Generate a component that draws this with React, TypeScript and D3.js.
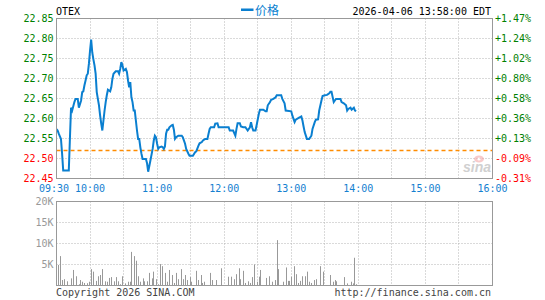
import React from 'react';
import * as d3 from 'd3';

const symbol = 'OTEX';
const stamp = '2026-04-06 13:58:00 EDT';
const legendLabel = '价格';
const prevClose = 22.52;

const priceTicks = [22.85, 22.8, 22.75, 22.7, 22.65, 22.6, 22.55, 22.5, 22.45];
const timeTicks = ['09:30', '10:00', '11:00', '12:00', '13:00', '14:00', '15:00', '16:00'];
const volumeTicks = [5000, 10000, 15000, 20000];

// minutes after 09:30 -> last price
const priceMinutes = [
  0, 1, 2, 4, 5, 6, 11, 12, 13, 14, 16, 17, 19, 20, 22, 23, 24, 25, 26, 27, 28, 29, 30, 31, 32, 33, 34, 35,
  36, 37, 38, 39, 40, 41, 42, 43, 44, 45, 46, 48, 49, 50, 51, 53, 55, 56, 57, 58, 59, 60, 62, 63, 64, 65, 66,
  67, 68, 69, 70, 71, 72, 73, 74, 75, 76, 77, 80, 81, 82, 84, 86, 87, 88, 89, 90, 91, 92, 94, 95, 96, 97, 98,
  99, 100, 101, 103, 104, 105, 106, 107, 109, 112, 113, 115, 116, 118, 119, 122, 124, 125, 127, 128, 130, 131,
  133, 135, 136, 137, 138, 141, 142, 144, 145, 154, 155, 158, 160, 161, 162, 164, 165, 167, 169, 171, 173, 174,
  175, 176, 178, 179, 181, 182, 185, 187, 188, 189, 191, 192, 194, 196, 197, 201, 202, 204, 205, 210, 211, 213,
  214, 217, 219, 220, 221, 222, 224, 226, 228, 229, 231, 232, 234, 235, 237, 238, 240, 242, 244, 245, 246, 248,
  249, 250, 254, 255, 257, 259, 260, 261, 263, 264, 266, 267, 268,
];
const prices = [
  22.573, 22.57, 22.562, 22.549, 22.512, 22.47, 22.47, 22.55, 22.627, 22.62, 22.641, 22.649, 22.649, 22.627,
  22.645, 22.666, 22.668, 22.683, 22.695, 22.708, 22.712, 22.737, 22.77, 22.797, 22.765, 22.748, 22.733, 22.712,
  22.666, 22.649, 22.633, 22.608, 22.587, 22.57, 22.595, 22.62, 22.641, 22.658, 22.672, 22.668, 22.678, 22.699,
  22.712, 22.718, 22.718, 22.712, 22.724, 22.741, 22.733, 22.72, 22.724, 22.716, 22.695, 22.678, 22.691,
  22.653, 22.641, 22.62, 22.62, 22.595, 22.57, 22.549, 22.549, 22.528, 22.512, 22.499, 22.499, 22.488, 22.467,
  22.495, 22.524, 22.545, 22.557, 22.553, 22.537, 22.524, 22.528, 22.53, 22.528, 22.524, 22.53, 22.562,
  22.572, 22.572, 22.578, 22.583, 22.584, 22.572, 22.549, 22.553, 22.557, 22.557, 22.553, 22.537, 22.524,
  22.512, 22.507, 22.507, 22.516, 22.518, 22.532, 22.538, 22.541, 22.545,
  22.549, 22.549, 22.562, 22.574, 22.578, 22.578, 22.587, 22.588, 22.578, 22.578, 22.57, 22.57, 22.557, 22.574,
  22.588, 22.588, 22.58, 22.578, 22.578, 22.57, 22.578, 22.591, 22.578, 22.57, 22.57, 22.583, 22.612, 22.622,
  22.622, 22.618, 22.618, 22.633, 22.641, 22.647, 22.649, 22.653, 22.658, 22.658, 22.649, 22.638, 22.62,
  22.618, 22.607, 22.591, 22.597, 22.602, 22.605, 22.595, 22.58, 22.566, 22.549, 22.549, 22.557, 22.574,
  22.591, 22.597, 22.598, 22.62, 22.645, 22.656, 22.658, 22.659, 22.663, 22.667, 22.667, 22.641, 22.645,
  22.649, 22.649, 22.641, 22.638, 22.633, 22.62, 22.624, 22.627, 22.622, 22.627, 22.62, 22.618,
];

// minutes after 09:30 -> shares traded
const volumeMinutes = [
  1, 3, 5, 7, 9, 13, 15, 17, 20, 21, 23, 25, 27, 29, 31, 33, 35, 37, 39, 41, 43, 45, 47, 49, 51, 53, 55, 57, 59,
  61, 64, 66, 67, 69, 71, 73, 75, 77, 78, 81, 83, 85, 86, 89, 91, 93, 94, 97, 99, 101, 103, 105, 107, 109, 111,
  113, 115, 117, 119, 120, 125, 127, 129, 130, 132, 137, 139, 143, 147, 153, 156, 159, 161, 163, 164, 167, 169,
  171, 173, 175, 177, 179, 181, 182, 187, 190, 193, 195, 197, 198, 203, 205, 207, 208, 210, 212, 214, 216, 218,
  220, 222, 224, 226, 228, 230, 232, 236, 238, 245, 247, 249, 250, 257, 260, 263, 265, 266, 268,
];
const volumes = [
  4900, 7000, 1300, 1500, 1000, 1700, 3700, 2200, 300, 1300, 900, 600, 550, 900, 3900, 3300, 1100, 2200, 2500,
  3900, 1000, 900, 1800, 2000, 1000, 2000, 1000, 300, 2200, 500, 900, 900, 8000, 7000, 5900, 2200, 900, 1700,
  1000, 1000, 3000, 1700, 3300, 1500, 300, 5100, 4600, 3000, 900, 3700, 2500, 600, 3000, 1500, 3900, 1500,
  2500, 1300, 2000, 900, 3500, 1300, 2500, 600, 900, 3000, 1300, 1300, 4100, 2100, 2100, 1500, 2700, 4100,
  1500, 3500, 600, 1000, 600, 2000, 5000, 900, 2100, 3700, 1800, 2200, 900, 1300, 10800, 3900, 900, 4300, 1100,
  1100, 2100, 4600, 2700, 600, 1100, 2200, 2200, 3300, 900, 600, 1300, 1500, 4600, 3300, 2500, 900, 1300, 1000,
  2000, 500, 900, 500, 6600, 300,
];

const mono = '"DejaVu Sans Mono", monospace';
const blue = '#0a7fd0';
const green = '#008000';
const red = '#ff0000';
const gray = '#999999';

function App() {
  const ref = React.useRef<SVGSVGElement>(null);

  React.useEffect(() => {
    const svg = d3.select(ref.current);
    svg.selectAll('*').remove();

    const parse = d3.timeParse('%H:%M');
    const open = parse(timeTicks[0]) as Date;
    const close = parse(timeTicks[timeTicks.length - 1]) as Date;
    const at = (m: number) => d3.timeMinute.offset(open, m);

    const left = 56.5;
    const right = 492.5;
    const pTop = 18.5;
    const pBottom = 178.5;
    const vTop = 201.5;
    const vBottom = 285.5;

    const x = d3.scaleTime().domain([open, close]).range([left, right]);
    const y = d3
      .scaleLinear()
      .domain([d3.min(priceTicks) as number, d3.max(priceTicks) as number])
      .range([pBottom, pTop]);
    const yv = d3.scaleLinear().domain([0, d3.max(volumeTicks) as number]).range([vBottom, vTop]);

    const halfHours = x.ticks(d3.timeMinute.every(30) as d3.TimeInterval).filter((d) => +d > +open && +d < +close);

    // ---- price panel grid
    const grid = svg.append('g').attr('stroke', '#b4b4b4').attr('stroke-dasharray', '1,2');
    grid
      .selectAll('.hp')
      .data(priceTicks.slice(1, -1))
      .join('line')
      .attr('x1', left)
      .attr('x2', right)
      .attr('y1', (d) => Math.round(y(d) - 0.5) + 0.5)
      .attr('y2', (d) => Math.round(y(d) - 0.5) + 0.5);
    grid
      .selectAll('.vp')
      .data(halfHours)
      .join('line')
      .attr('x1', (d) => Math.round(x(d) - 0.5) + 0.5)
      .attr('x2', (d) => Math.round(x(d) - 0.5) + 0.5)
      .attr('y1', pTop)
      .attr('y2', pBottom);

    // ---- volume panel grid
    const vgrid = svg.append('g').attr('stroke', '#b4b4b4').attr('stroke-dasharray', '1,2');
    vgrid
      .selectAll('line.h')
      .data(volumeTicks.slice(0, -1))
      .join('line')
      .attr('class', 'h')
      .attr('x1', left)
      .attr('x2', right)
      .attr('y1', (d) => Math.round(yv(d) - 0.5) + 0.5)
      .attr('y2', (d) => Math.round(yv(d) - 0.5) + 0.5);
    vgrid
      .selectAll('line.v')
      .data(halfHours)
      .join('line')
      .attr('class', 'v')
      .attr('x1', (d) => Math.round(x(d) - 0.5) + 0.5)
      .attr('x2', (d) => Math.round(x(d) - 0.5) + 0.5)
      .attr('y1', vTop)
      .attr('y2', vBottom);

    // sina watermark
    const wm = svg.append('g').attr('opacity', 0.55);
    wm.append('ellipse').attr('cx', 479).attr('cy', 159).attr('rx', 5).attr('ry', 3.5).attr('fill', '#f4a0a0');
    wm.append('circle').attr('cx', 479).attr('cy', 159).attr('r', 1.6).attr('fill', '#fff');
    wm.append('text')
      .attr('x', 491)
      .attr('y', 172)
      .attr('text-anchor', 'end')
      .attr('font-family', '"Liberation Sans", Arial, sans-serif')
      .attr('font-size', 14)
      .attr('font-style', 'italic')
      .attr('font-weight', 'bold')
      .attr('fill', '#aaaaaa')
      .text('sina');

    // ---- prev close reference
    svg
      .append('line')
      .attr('x1', left)
      .attr('x2', right)
      .attr('y1', y(prevClose))
      .attr('y2', y(prevClose))
      .attr('stroke', '#ff8c00')
      .attr('stroke-width', 1.5)
      .attr('stroke-dasharray', '4,3');

    // ---- volume bars
    svg
      .append('g')
      .attr('stroke', gray)
      .selectAll('line')
      .data(volumeMinutes)
      .join('line')
      .attr('x1', (d) => Math.round(x(at(d))) + 0.5)
      .attr('x2', (d) => Math.round(x(at(d))) + 0.5)
      .attr('y1', vBottom)
      .attr('y2', (d, i) => yv(volumes[i]));

    // ---- price line
    const line = d3
      .line<number>()
      .x((d) => x(at(d)))
      .y((d, i) => y(prices[i]));
    svg
      .append('path')
      .datum(priceMinutes)
      .attr('d', line)
      .attr('fill', 'none')
      .attr('stroke', blue)
      .attr('stroke-width', 2)
      .attr('stroke-linejoin', 'miter');

    // ---- borders
    svg
      .append('rect')
      .attr('x', left)
      .attr('y', pTop)
      .attr('width', right - left)
      .attr('height', pBottom - pTop)
      .attr('fill', 'none')
      .attr('stroke', gray);
    svg
      .append('rect')
      .attr('x', left)
      .attr('y', vTop)
      .attr('width', right - left)
      .attr('height', vBottom - vTop)
      .attr('fill', 'none')
      .attr('stroke', gray);

    const txt = svg.append('g').attr('font-family', mono).attr('font-size', 10);

    // left price labels
    txt
      .selectAll('text.lp')
      .data(priceTicks)
      .join('text')
      .attr('class', 'lp')
      .attr('x', 53.5)
      .attr('y', (d) => y(d) + 3.5)
      .attr('text-anchor', 'end')
      .attr('fill', (d) => (d >= prevClose ? green : red))
      .text((d) => d.toFixed(2));

    // right percent labels
    txt
      .selectAll('text.rp')
      .data(priceTicks)
      .join('text')
      .attr('class', 'rp')
      .attr('x', 495)
      .attr('y', (d) => y(d) + 3.5)
      .attr('fill', (d) => (d >= prevClose ? green : red))
      .text((d) => {
        const p = (d / prevClose - 1) * 100;
        return (p >= 0 ? '+' : '-') + Math.abs(p).toFixed(2) + '%';
      });

    // time labels
    txt
      .selectAll('text.t')
      .data(timeTicks)
      .join('text')
      .attr('class', 't')
      .attr('x', (d, i) => x(parse(d) as Date) - (i === 0 ? 2.5 : 0))
      .attr('y', 192)
      .attr('text-anchor', 'middle')
      .attr('fill', '#1480d0')
      .text((d) => d);

    // volume labels
    txt
      .selectAll('text.v')
      .data(volumeTicks)
      .join('text')
      .attr('class', 'v')
      .attr('x', 53.5)
      .attr('y', (d) => yv(d) + 3)
      .attr('text-anchor', 'end')
      .attr('fill', gray)
      .text((d) => d / 1000 + 'K');

    // header
    txt.append('text').attr('x', 56).attr('y', 15).attr('fill', '#000').text(symbol);
    txt
      .append('text')
      .attr('x', 491)
      .attr('y', 15)
      .attr('text-anchor', 'end')
      .attr('fill', '#000')
      .text(stamp);
    svg.append('rect').attr('x', 241).attr('y', 8.5).attr('width', 12.5).attr('height', 2.5).attr('fill', blue);
    svg
      .append('text')
      .attr('x', 255)
      .attr('y', 15)
      .attr('font-family', '"Noto Sans CJK SC", sans-serif')
      .attr('font-size', 12)
      .attr('fill', blue)
      .text(legendLabel);

    // footer
    txt.append('text').attr('x', 56).attr('y', 296).attr('fill', '#444').text('Copyright 2026 SINA.COM');
    txt
      .append('text')
      .attr('x', 491)
      .attr('y', 296)
      .attr('text-anchor', 'end')
      .attr('fill', '#444')
      .text('http://finance.sina.com.cn');
  }, []);

  return (
    <svg
      ref={ref}
      width={545}
      height={300}
      style={{ position: 'absolute', left: 0, top: 0, background: '#fff' }}
    />
  );
}

export default App;
